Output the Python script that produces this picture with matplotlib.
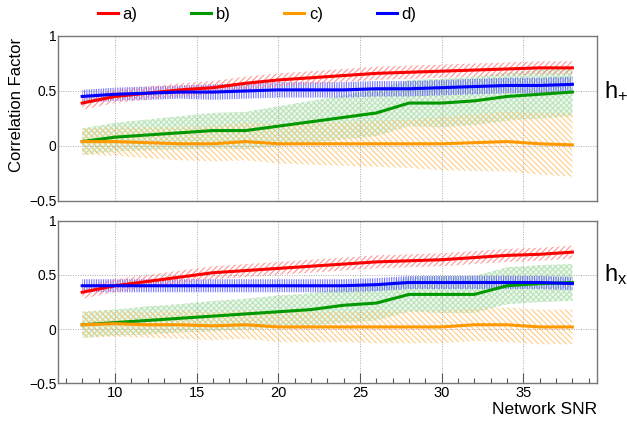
import numpy as np
import matplotlib
matplotlib.use("Agg")
import matplotlib.pyplot as plt
from matplotlib.ticker import MultipleLocator

plt.rcParams['font.family'] = ['Liberation Sans', 'DejaVu Sans']
plt.rcParams['hatch.linewidth'] = 0.8

# ---------------- data ----------------
snr = [8, 10, 12, 14, 16, 18, 20, 22, 24, 26, 28, 30, 32, 34, 36, 38]

# h+ panel
hp_a = [0.39, 0.45, 0.48, 0.51, 0.53, 0.57, 0.60, 0.62, 0.64, 0.66, 0.67, 0.68, 0.69, 0.70, 0.71, 0.71]
hp_a_err = [0.06, 0.06, 0.06, 0.06, 0.06, 0.06, 0.06, 0.06, 0.06, 0.06, 0.06, 0.06, 0.06, 0.06, 0.06, 0.06]
hp_b = [0.04, 0.08, 0.10, 0.12, 0.14, 0.14, 0.18, 0.22, 0.26, 0.30, 0.39, 0.39, 0.41, 0.45, 0.47, 0.49]
hp_b_err = [0.12, 0.13, 0.14, 0.15, 0.16, 0.17, 0.18, 0.19, 0.20, 0.21, 0.21, 0.22, 0.22, 0.22, 0.22, 0.22]
hp_c = [0.04, 0.04, 0.03, 0.02, 0.02, 0.04, 0.02, 0.02, 0.02, 0.02, 0.02, 0.02, 0.03, 0.04, 0.02, 0.01]
hp_c_err = [0.12, 0.13, 0.14, 0.15, 0.16, 0.17, 0.18, 0.19, 0.20, 0.21, 0.22, 0.24, 0.26, 0.27, 0.28, 0.29]
hp_d = [0.45, 0.47, 0.48, 0.49, 0.49, 0.50, 0.51, 0.51, 0.51, 0.52, 0.52, 0.53, 0.54, 0.55, 0.55, 0.56]
hp_d_err = [0.06, 0.06, 0.06, 0.06, 0.07, 0.07, 0.07, 0.07, 0.07, 0.07, 0.07, 0.07, 0.07, 0.07, 0.07, 0.07]

# hx panel
hx_a = [0.34, 0.40, 0.44, 0.48, 0.52, 0.54, 0.56, 0.58, 0.60, 0.62, 0.63, 0.64, 0.66, 0.68, 0.69, 0.71]
hx_a_err = [0.06, 0.06, 0.06, 0.06, 0.06, 0.06, 0.06, 0.06, 0.06, 0.06, 0.06, 0.06, 0.06, 0.06, 0.06, 0.06]
hx_b = [0.04, 0.06, 0.08, 0.10, 0.12, 0.14, 0.16, 0.18, 0.22, 0.24, 0.32, 0.32, 0.32, 0.40, 0.42, 0.43]
hx_b_err = [0.12, 0.12, 0.13, 0.13, 0.14, 0.14, 0.15, 0.15, 0.16, 0.16, 0.16, 0.17, 0.17, 0.17, 0.17, 0.17]
hx_c = [0.04, 0.05, 0.04, 0.04, 0.03, 0.04, 0.02, 0.02, 0.02, 0.02, 0.02, 0.02, 0.04, 0.04, 0.02, 0.02]
hx_c_err = [0.12, 0.12, 0.12, 0.13, 0.13, 0.13, 0.14, 0.14, 0.14, 0.15, 0.15, 0.15, 0.15, 0.16, 0.16, 0.16]
hx_d = [0.40, 0.40, 0.40, 0.40, 0.40, 0.40, 0.40, 0.40, 0.40, 0.41, 0.43, 0.43, 0.43, 0.43, 0.43, 0.42]
hx_d_err = [0.06, 0.06, 0.06, 0.06, 0.06, 0.06, 0.06, 0.06, 0.06, 0.06, 0.06, 0.06, 0.06, 0.06, 0.06, 0.06]

labels = ['a)', 'b)', 'c)', 'd)']
colors = ['#ff0000', '#009900', '#ff9900', '#0000ff']
band_colors = ['#ff8080', '#b0e0b0', '#ffc470', '#6060ff']
hatches = ['//////', 'xxxxxx', '\\\\\\\\\\\\', '|||||||']


def draw_panel(ax, series, name):
    x = np.array(snr)
    # green band first, then orange, blue, red
    for i in [1, 2, 3, 0]:
        y, err = np.array(series[i][0]), np.array(series[i][1])
        if i == 1:
            ax.fill_between(x, y - err, y + err, facecolor='#eef8ee', edgecolor='none', zorder=1)
        ax.fill_between(x, y - err, y + err, facecolor='none', edgecolor=band_colors[i],
                        hatch=hatches[i], linewidth=0, zorder=1.5, alpha=0.85)
    for i in range(4):
        ax.plot(x, series[i][0], color=colors[i], lw=2.2, label=labels[i], zorder=3)

    ax.set_xlim(6.5, 39.5)
    ax.set_ylim(-0.5, 1)
    ax.xaxis.set_major_locator(MultipleLocator(5))
    ax.xaxis.set_minor_locator(MultipleLocator(1))
    ax.set_yticks([-0.5, 0, 0.5, 1])
    ax.set_yticklabels(['\u22120.5', '0', '0.5', '1'])
    ax.grid(True, which='major', color='#aaaaaa', ls=(0, (1, 1.5)), lw=0.7)
    ax.tick_params(axis='y', length=0, labelsize=10, pad=1)
    ax.tick_params(axis='x', which='major', direction='in', length=7, labelsize=10.5, width=0.8,
                   color='#555555', pad=2)
    ax.tick_params(axis='x', which='minor', direction='in', length=3.5, width=0.8, color='#555555')
    for s in ax.spines.values():
        s.set_color('#777777')
        s.set_linewidth(1.0)
    ax.text(1.013, 0.67, name, transform=ax.transAxes, fontsize=17, va='center', ha='left')


fig = plt.figure(figsize=(6.27, 4.21), dpi=100)
ax1 = fig.add_axes([0.092, 0.5226, 0.860, 0.392])
ax2 = fig.add_axes([0.092, 0.0895, 0.860, 0.3863])

draw_panel(ax1, [(hp_a, hp_a_err), (hp_b, hp_b_err), (hp_c, hp_c_err), (hp_d, hp_d_err)],
           r'$\mathregular{h_{+}}$')
draw_panel(ax2, [(hx_a, hx_a_err), (hx_b, hx_b_err), (hx_c, hx_c_err), (hx_d, hx_d_err)],
           r'$\mathregular{h_{x}}$')

ax1.tick_params(axis='x', labelbottom=False)
ax1.tick_params(axis='x', which='both', length=0)

fig.text(0.027, 1 - 105 / 421, 'Correlation Factor', rotation=90, fontsize=12, ha='center', va='center')
fig.text(0.952, 1 - 410 / 421, 'Network SNR', fontsize=12.5, ha='right', va='center')

handles, leg_labels = ax1.get_legend_handles_labels()
fig.legend(handles, leg_labels, loc='center', bbox_to_anchor=(0.41, 1 - 14 / 421), ncol=4,
           frameon=False, fontsize=12, handlelength=1.2, handletextpad=0.3, columnspacing=3.2)

fig.savefig('out.png', dpi=100)
